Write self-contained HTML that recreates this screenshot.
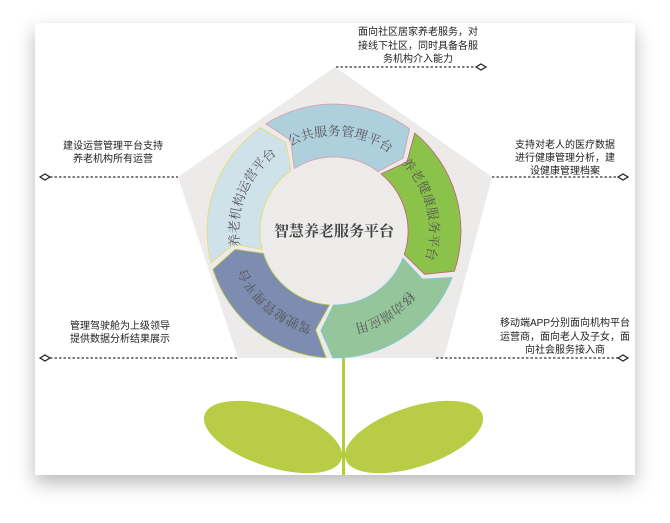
<!DOCTYPE html>
<html><head><meta charset="utf-8"><style>
html,body{margin:0;padding:0;background:#fff;}
body{width:670px;height:523px;position:relative;overflow:hidden;font-family:"Liberation Sans","Noto Sans CJK SC",sans-serif;}
.card{position:absolute;left:35px;top:23px;width:600px;height:452px;background:#fff;box-shadow:0 8px 18px rgba(0,0,0,0.28);}
svg{position:absolute;left:0;top:0;}
.t{font-size:10px;fill:#222;text-anchor:middle;}
</style></head><body>
<div class="card"></div>
<svg width="670" height="523" viewBox="0 0 670 523" id="s">
<polygon points="335,67 492,177 444,358 238,358 178,177" fill="#ecebea"/>
<g stroke="#333" stroke-width="1.2" stroke-dasharray="2.5,2" fill="none">
<line x1="336" y1="67" x2="476" y2="67"/>
<line x1="50" y1="177" x2="178" y2="177"/>
<line x1="492" y1="177" x2="618" y2="177"/>
<line x1="50" y1="358" x2="238" y2="358"/>
<line x1="436" y1="358" x2="618" y2="358"/>
</g>
<g fill="#fff" stroke="#222" stroke-width="1.2">
<polygon points="476,67 481,64 486,67 481,70"/>
<polygon points="40,177 45,174 50,177 45,180"/>
<polygon points="618,177 623,174 628,177 623,180"/>
<polygon points="40,358 45,355 50,358 45,361"/>
<polygon points="618,358 623,355 628,358 623,361"/>
</g>
<g id="ring"></g>
<circle cx="334" cy="231" r="69" fill="#edeceb"/>
<text x="334" y="236" font-size="15" font-weight="bold" fill="#444" text-anchor="middle" style="font-family:'Noto Serif CJK SC',serif">智慧养老服务平台</text>
<rect x="342" y="358" width="3" height="117" fill="#b5cc3f"/>
<ellipse cx="273" cy="437" rx="72" ry="30" transform="rotate(18 273 437)" fill="#b8cd45"/>
<ellipse cx="414" cy="437" rx="72" ry="30" transform="rotate(-18 414 437)" fill="#b8cd45"/>
<text class="t" x="418" y="35">面向社区居家养老服务，对</text>
<text class="t" x="418" y="49">接线下社区，同时具备各服</text>
<text class="t" x="418" y="62">务机构介入能力</text>
<text class="t" x="113" y="149">建设运营管理平台支持</text>
<text class="t" x="113" y="162">养老机构所有运营</text>
<text class="t" x="565" y="148">支持对老人的医疗数据</text>
<text class="t" x="565" y="161">进行健康管理分析，建</text>
<text class="t" x="565" y="174">设健康管理档案</text>
<text class="t" x="120" y="329">管理驾驶舱为上级领导</text>
<text class="t" x="120" y="342">提供数据分析结果展示</text>
<text class="t" x="565" y="326">移动端APP分别面向机构平台</text>
<text class="t" x="565" y="340">运营商，面向老人及子女，面</text>
<text class="t" x="565" y="353">向社会服务接入商</text>
</svg>
<script>
(function(){
var cx=334,cy=231,R=127,r=74,m=(R+r)/2;
var segs=[[326,"#aed0dc","#d99aa8","公共服务管理平台"],[38,"#8bc34a","#c85a7a","养老健康服务平台"],[110,"#95c59b","#7cc8d8","移动端应用"],[182,"#7d8cb0","#b8cd45","驾驶舱管理平台"],[254,"#cfe2ea","#e8dc6a","养老机构运营平台"]];
function p(a,rad){var t=(a-90)*Math.PI/180;return [(cx+rad*Math.cos(t)).toFixed(1),(cy+rad*Math.sin(t)).toFixed(1)];}
var g=document.getElementById("ring"),html="";
segs.forEach(function(s,i){
 var a0=s[0]+1.5,a1=s[0]+70.5,k=7;
 var d="M"+p(a0,R)+" A"+R+","+R+" 0 0 1 "+p(a1,R)+" L"+p(a1+k,m)+" L"+p(a1,r)+" A"+r+","+r+" 0 0 0 "+p(a0,r)+" L"+p(a0+k,m)+" Z";
 html+='<path d="'+d+'" fill="'+s[1]+'" stroke="'+s[2]+'" stroke-width="0.8"/>';
 var ta=a0+2,tb=a1+2;
 html+='<path id="tp'+i+'" d="M'+p(ta,m-5)+' A'+(m-5)+','+(m-5)+' 0 0 1 '+p(tb,m-5)+'" fill="none"/>';
 html+='<text font-size="13" fill="#555" style="font-family:\'Noto Serif CJK SC\',serif"><textPath href="#tp'+i+'" startOffset="50%" text-anchor="middle">'+s[3]+'</textPath></text>';
});
g.innerHTML=html;
})();
</script>
</body></html>
